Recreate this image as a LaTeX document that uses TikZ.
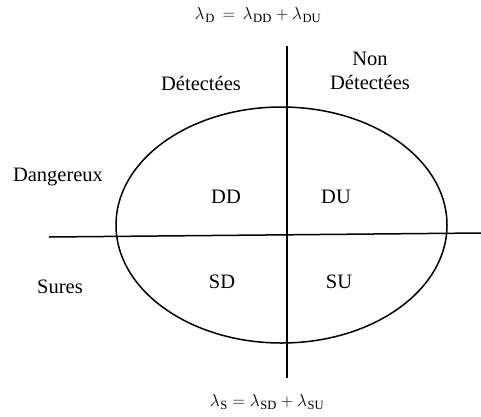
\documentclass[tikz,border=0pt]{standalone}
\usepackage{fontspec}
\setmainfont{Liberation Serif}
\usetikzlibrary{positioning}

\tikzset{
  axe/.style={line width=1.5pt},
  lbl/.style={font=\fontsize{20.5}{24}\selectfont, align=center, inner sep=0pt},
  formule/.style={font=\fontsize{18}{22}\selectfont, inner sep=0pt}
}

\begin{document}
\begin{tikzpicture}[x=1pt, y=-1pt]
\useasboundingbox (0,0) rectangle (481,416);
% ellipse des defaillances
\draw[axe] (281.5,225) ellipse [x radius=165.5, y radius=118];
% axes
\coordinate (haut) at (287,46);
\coordinate (bas) at (287,378);
\coordinate (gauche) at (49,237);
\coordinate (droite) at (481,233);
\draw[axe] (haut) -- (bas);
\draw[axe] (gauche) -- (droite);
% formules
\node[formule] (lamD) at (258,15) {$\lambda_{\mkern1mu\mathrm{D}} \,=\, \lambda_{\mkern1mu\mathrm{DD}} + \lambda_{\mkern1mu\mathrm{DU}}$};
\node[formule] (lamS) at (267,402) {$\lambda_{\mkern1mu\mathrm{S}} = \lambda_{\mkern1mu\mathrm{SD}} + \lambda_{\mkern1mu\mathrm{SU}}$};
% en-tetes
\node[lbl] (det) at (201,83) {Détectées};
\node[lbl] (nondet) at (370,71) {Non\\Détectées};
\node[lbl] (dang) at (58,177) {Dangereux};
\node[lbl] (sures) at (60,287) {Sures};
% quadrants
\node[lbl] (dd) at (226,197) {DD};
\node[lbl] (du) at (336,197) {DU};
\node[lbl] (sd) at (222,282) {SD};
\node[lbl] (su) at (339,282) {SU};
\end{tikzpicture}
\end{document}
